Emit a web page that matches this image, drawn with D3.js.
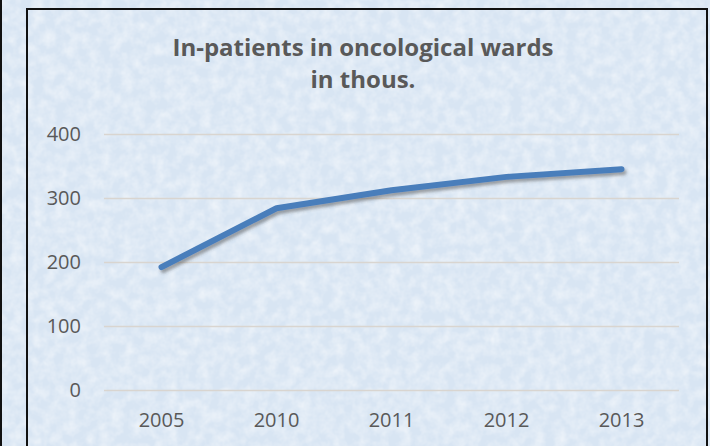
<!DOCTYPE html>
<html lang="en">
<head>
<meta charset="utf-8">
<title>In-patients in oncological wards</title>
<script src="https://d3js.org/d3.v7.min.js"></script>
<style>
  body { margin: 0; background: #dce8f5; }
  svg { display: block; }
  text { font-family: "Open Sans", Lato, sans-serif; }
</style>
</head>
<body>
<svg width="710" height="446"></svg>
<script>
// values
const years = ["2005", "2010", "2011", "2012", "2013"];
const patients = [192, 284, 312, 333, 345];
const yTicks = [0, 100, 200, 300, 400];
const titleLines = ["In-patients in oncological wards", "in thous."];

const svg = d3.select("svg");
const W = +svg.attr("width"), H = +svg.attr("height");

const defs = svg.append("defs");

// soft paper texture for the background
const tex = defs.append("filter").attr("id", "tex")
    .attr("x", 0).attr("y", 0).attr("width", "100%").attr("height", "100%");
tex.append("feTurbulence")
    .attr("type", "fractalNoise")
    .attr("baseFrequency", 0.09)
    .attr("numOctaves", 3)
    .attr("seed", 4)
    .attr("result", "noise");
tex.append("feColorMatrix")
    .attr("in", "noise")
    .attr("type", "matrix")
    .attr("values", "0 0 0 0 1  0 0 0 0 1  0 0 0 0 1  0.9 0 0 0 -0.3");

const shadow = defs.append("filter").attr("id", "shadow")
    .attr("x", "-10%").attr("y", "-10%").attr("width", "120%").attr("height", "130%");
shadow.append("feDropShadow")
    .attr("dx", 2).attr("dy", 3)
    .attr("stdDeviation", 1.6)
    .attr("flood-color", "#404040")
    .attr("flood-opacity", 0.45);

svg.append("rect").attr("width", W).attr("height", H).attr("fill", "#d8e5f3");
svg.append("rect").attr("width", W).attr("height", H).attr("filter", "url(#tex)");

// left edge line and chart frame
svg.append("line")
    .attr("x1", 1).attr("x2", 1).attr("y1", 0).attr("y2", H)
    .attr("stroke", "#111").attr("stroke-width", 2);
svg.append("rect")
    .attr("x", 27).attr("y", 9).attr("width", 680).attr("height", H)
    .attr("fill", "none").attr("stroke", "#111").attr("stroke-width", 2);

const x = d3.scaleBand().domain(years).range([104, 679]);
const y = d3.scaleLinear().domain([0, 400]).range([390, 134]);

const yAxis = svg.append("g")
    .attr("transform", "translate(104,0)")
    .call(d3.axisLeft(y).tickValues(yTicks).tickSize(-575).tickPadding(23))
    .attr("font-family", null);
yAxis.select(".domain").remove();
yAxis.selectAll(".tick line").attr("stroke", "#d9d5d0").attr("stroke-width", 1.5);
yAxis.selectAll(".tick text")
    .attr("fill", "#595959")
    .style("font-size", "20px");

const xAxis = svg.append("g")
    .attr("transform", "translate(0,390)")
    .call(d3.axisBottom(x).tickSize(0).tickPadding(23))
    .attr("font-family", null);
xAxis.select(".domain").remove();
xAxis.selectAll(".tick text")
    .attr("fill", "#595959")
    .style("font-size", "20px");

const line = d3.line()
    .x((d, i) => x(years[i]) + x.bandwidth() / 2)
    .y(d => y(d));

svg.append("path")
    .datum(patients)
    .attr("d", line)
    .attr("fill", "none")
    .attr("stroke", "#4a7ebb")
    .attr("stroke-width", 6)
    .attr("stroke-linecap", "round")
    .attr("stroke-linejoin", "round")
    .attr("filter", "url(#shadow)");

svg.append("text")
    .attr("text-anchor", "middle")
    .attr("fill", "#595959")
    .style("font-size", "24px")
    .style("font-weight", "bold")
    .selectAll("tspan")
    .data(titleLines)
    .join("tspan")
    .attr("x", 363)
    .attr("y", (d, i) => 56 + i * 32)
    .text(d => d);
</script>
</body>
</html>
